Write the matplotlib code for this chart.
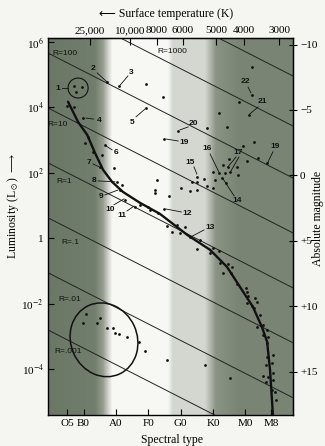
import numpy as np
import matplotlib
matplotlib.use('Agg')
import matplotlib.pyplot as plt
from matplotlib.patches import Ellipse

plt.rcParams['font.family'] = ['Liberation Serif', 'DejaVu Sans']
plt.rcParams['mathtext.fontset'] = 'stix'

# x axis: spectral class position (B0=1, A0=2, ... M0=6)
spec_labels = ['O5', 'B0', 'A0', 'F0', 'G0', 'K0', 'M0', 'M8']
spec_pos = [0.5, 1, 2, 3, 4, 5, 6, 6.8]
temp_labels = ['25,000', '10,000', '8000', '6000', '5000', '4000', '3000']
temp_pos = [1.2, 2.43, 3.27, 4.07, 5.09, 5.96, 7.04]

# y axis: log10 luminosity
lum_ticks = [6, 4, 2, 0, -2, -4]
lum_labels = ['10$^6$', '10$^4$', '10$^2$', '1', '10$^{-2}$', '10$^{-4}$']
mag_ticks = [-10, -5, 0, 5, 10, 15]
mag_labels = ['\u221210', '\u22125', '0', '+5', '+10', '+15']

# lines of constant radius (log L where they cross x=0)
radius_names = ['', 'R=1000', 'R=100', 'R=10', 'R=1', 'R=.1', 'R=.01', 'R=.001']
radius_logl0 = [8.73, 7.20, 5.61, 3.93, 2.25, 0.57, -1.11, -2.86]
radius_slope = -0.505
radius_lab_x = [0, 3.73, 0.43, 0.21, 0.40, 0.58, 0.58, 0.52]
radius_lab_y = [0, 5.72, 5.66, 3.46, 1.72, -0.12, -1.89, -3.48]

# main sequence
ms_x = [0.52, 0.83, 1.11, 1.35, 1.60, 1.88, 2.22, 2.74, 3.36, 4.20, 4.91,
        5.43, 5.83, 6.23, 6.51, 6.67, 6.76, 6.85]
ms_logl = [4.17, 3.55, 3.16, 2.61, 2.09, 1.72, 1.41, 1.08, 0.74, 0.10, -0.36,
           -0.88, -1.49, -2.10, -2.72, -3.17, -4.03, -5.41]

# individual stars
star_x = [0.70, 0.95, 0.77, 1.72, 2.09, 2.93, 3.45, 2.93, 0.49, 0.70, 0.98, 1.14, 1.66,
          6.20, 6.20, 5.80, 6.11, 5.18, 5.43, 4.81, 3.92, 3.48,
          6.26, 5.92, 6.05, 6.39, 6.67, 5.31, 5.49, 5.74, 5.00, 5.18, 5.37, 5.52, 5.77,
          4.50, 4.50, 4.72, 5.06, 5.28, 4.35, 4.81, 5.00, 4.50, 4.29, 4.02, 3.64, 5.40, 5.46,
          1.04, 1.29, 1.57, 1.51, 1.94, 2.03, 2.13, 2.19, 2.28, 2.59,
          3.27, 3.21, 3.21, 3.48, 2.99, 2.74, 3.05, 3.30,
          3.58, 3.89, 4.13, 3.73, 3.98, 4.29, 4.60, 4.50, 5.00, 5.18, 4.91, 5.21, 5.46, 5.59,
          5.31, 5.56, 5.74, 6.02, 6.05, 6.08, 6.30, 6.05, 6.20, 6.36, 6.26, 6.45, 6.36,
          6.54, 6.67, 6.54, 6.70, 6.67, 6.85, 6.67, 6.82, 6.64, 6.85, 6.54, 6.70, 6.85, 6.64,
          6.82, 6.91, 6.94,
          3.58, 4.75, 5.52,
          1.08, 1.51, 0.98, 1.41, 1.72, 1.91, 1.97, 2.09, 2.34, 2.71, 2.90]
star_logl = [4.65, 4.62, 4.47, 4.78, 4.65, 4.72, 4.32, 3.98, 4.04, 4.01, 3.67, 3.09, 2.85,
             5.24, 4.38, 4.17, 3.77, 3.83, 3.40, 3.37, 3.28, 3.03,
             2.94, 2.82, 2.36, 2.45, 2.30, 2.24, 2.42, 2.18, 2.02, 1.99, 1.99, 2.02, 1.93,
             1.87, 1.72, 1.81, 1.78, 1.84, 1.72, 1.60, 1.53, 1.47, 1.44, 1.53, 1.29, 1.69, 2.18,
             2.91, 2.64, 2.54, 2.18, 2.15, 1.72, 1.47, 1.63, 1.17, 0.95,
             1.78, 1.47, 1.38, 0.89, 0.95, 1.02, 0.86, 0.77,
             0.37, 0.40, 0.34, 0.19, 0.16, 0.04, -0.06, -0.33, -0.30, -0.39, -0.45, -0.76, -0.79, -0.88,
             -1.06, -1.06, -1.40, -1.52, -1.65, -1.77, -1.83, -1.98, -2.07, -1.95, -2.13, -2.35, -2.72,
             -2.65, -2.81, -2.96, -3.02, -3.20, -3.57, -3.63, -3.82, -3.88, -4.12, -4.21, -4.25, -4.34, -4.40,
             -4.64, -4.70, -4.95,
             -3.72, -3.88, -4.28,
             -2.32, -2.44, -2.59, -2.59, -2.75, -2.75, -2.90, -2.93, -3.02, -3.17, -3.45]

# numbered stars: label position and leader line
num_text = ['1', '2', '3', '4', '5', '6', '7', '8', '9', '10', '11', '12', '13', '14',
            '15', '16', '17', '19', '19', '20', '21', '22']
num_x = [0.21, 1.29, 2.47, 1.47, 2.50, 2.00, 1.17, 1.32, 1.54, 1.82, 2.19, 4.20, 4.91, 5.74,
         4.29, 4.81, 5.77, 4.12, 6.91, 4.38, 6.51, 5.99]
num_y = [4.59, 5.20, 5.08, 3.61, 3.55, 2.61, 2.30, 1.75, 1.26, 0.89, 0.68, 0.74, 0.31, 1.14,
         2.30, 2.73, 2.61, 2.91, 2.79, 3.52, 4.17, 4.78]
lead_x0 = [0.33, 1.42, 2.37, 1.31, 2.62, 1.88, 1.29, 1.45, 1.66, 1.94, 2.34, 4.02, 4.72, 5.65,
           4.41, 4.91, 5.71, 5.80, 3.92, 6.85, 4.23, 6.39, 6.08]
lead_y0 = [4.59, 5.05, 4.96, 3.64, 3.71, 2.70, 2.27, 1.75, 1.32, 1.02, 0.83, 0.80, 0.25, 1.29,
           2.18, 2.57, 2.48, 2.48, 2.97, 2.64, 3.40, 4.01, 4.62]
lead_x1 = [0.52, 1.72, 2.13, 1.08, 2.90, 1.69, 1.48, 1.97, 2.06, 2.25, 2.56, 3.55, 4.32, 5.31,
           4.50, 5.18, 5.46, 5.55, 3.55, 6.70, 3.98, 6.14, 6.17]
lead_y1 = [4.59, 4.78, 4.68, 3.67, 3.95, 2.82, 2.18, 1.72, 1.47, 1.20, 0.98, 0.89, 0.04, 1.81,
           1.96, 2.02, 2.18, 2.05, 3.03, 2.33, 3.31, 3.80, 4.44]

# background shading across spectral types (0 = white, 1 = dark)
shade_x = [-0.1, 1.35, 1.60, 1.75, 1.88, 3.61, 3.76, 4.75, 4.95, 5.09, 5.80, 7.47]
shade_level = [1.0, 0.95, 0.7, 0.3, 0.0, 0.0, 0.25, 0.25, 0.55, 0.78, 0.9, 0.9]

xmin, xmax = -0.1, 7.47
ymin, ymax = -5.41, 6.12

fig = plt.figure(figsize=(3.25, 4.46), dpi=100, facecolor='#f5f5f1')
ax = fig.add_axes([48 / 325, 31 / 446, 245 / 325, 377 / 446])

xs = np.linspace(xmin, xmax, 600)
d = np.interp(xs, shade_x, shade_level)[None, :, None]
white = np.array([0.97, 0.97, 0.955])
dark = np.array([0.42, 0.47, 0.40])
ax.imshow(white * (1 - d) + dark * d, extent=[xmin, xmax, ymin, ymax],
          aspect='auto', zorder=0, interpolation='bilinear')

xl = np.array([xmin, xmax])
for name, b, lx, ly in zip(radius_names, radius_logl0, radius_lab_x, radius_lab_y):
    ax.plot(xl, b + radius_slope * xl, color='#222', lw=0.7, zorder=2)
    if name:
        ax.text(lx, ly, name, fontsize=6, family='Liberation Sans',
                ha='center', va='center', color='#111', zorder=4)

ax.plot(ms_x, ms_logl, color='#111', lw=1.7, zorder=3, solid_capstyle='round')
ax.scatter(star_x, star_logl, s=4, color='#111', zorder=4, lw=0)

ax.add_patch(Ellipse((0.83, 4.59), 0.62, 0.61, fill=False, ec='#111', lw=0.8, zorder=3))
ax.add_patch(Ellipse((1.63, -3.11), 2.05, 2.3, angle=25, fill=False, ec='#111', lw=1.1, zorder=3))

for t, x, y in zip(num_text, num_x, num_y):
    ax.text(x, y, t, fontsize=6, family='Liberation Sans', weight='bold',
            ha='center', va='center', color='#111', zorder=5)
for x0, y0, x1, y1 in zip(lead_x0, lead_y0, lead_x1, lead_y1):
    ax.plot([x0, x1], [y0, y1], color='#111', lw=0.6, zorder=4)

ax.set_xlim(xmin, xmax)
ax.set_ylim(ymin, ymax)
ax.set_xticks(spec_pos)
ax.set_xticklabels(spec_labels, fontsize=8)
ax.set_yticks(lum_ticks)
ax.set_yticklabels(lum_labels, fontsize=8)
ax.tick_params(direction='in', length=4, width=0.8, pad=3)

top = ax.secondary_xaxis('top')
top.set_xticks(temp_pos)
top.set_xticklabels(temp_labels, fontsize=8)
top.tick_params(direction='in', length=5, width=0.8, pad=2)

right = ax.secondary_yaxis('right', functions=(lambda l: 4.8 - 2.5 * l,
                                               lambda m: (4.8 - m) / 2.5))
right.set_yticks(mag_ticks)
right.set_yticklabels(mag_labels, fontsize=8)
right.tick_params(direction='inout', length=6, width=0.8, pad=2)

for s in ax.spines.values():
    s.set_linewidth(1.0)

fig.text(0.512, 0.969, '\u27f5 Surface temperature (K)', fontsize=8.5, ha='center', va='center')
fig.text(0.53, 0.014, 'Spectral type', fontsize=8.5, ha='center', va='center')
fig.text(0.04, 0.538, 'Luminosity (L$_\\odot$) $\\longrightarrow$', fontsize=8.5, rotation=90,
         ha='center', va='center')
fig.text(0.978, 0.51, 'Absolute magnitude', fontsize=8.5, rotation=90,
         ha='center', va='center')

fig.savefig('out.png', dpi=100, facecolor=fig.get_facecolor())
